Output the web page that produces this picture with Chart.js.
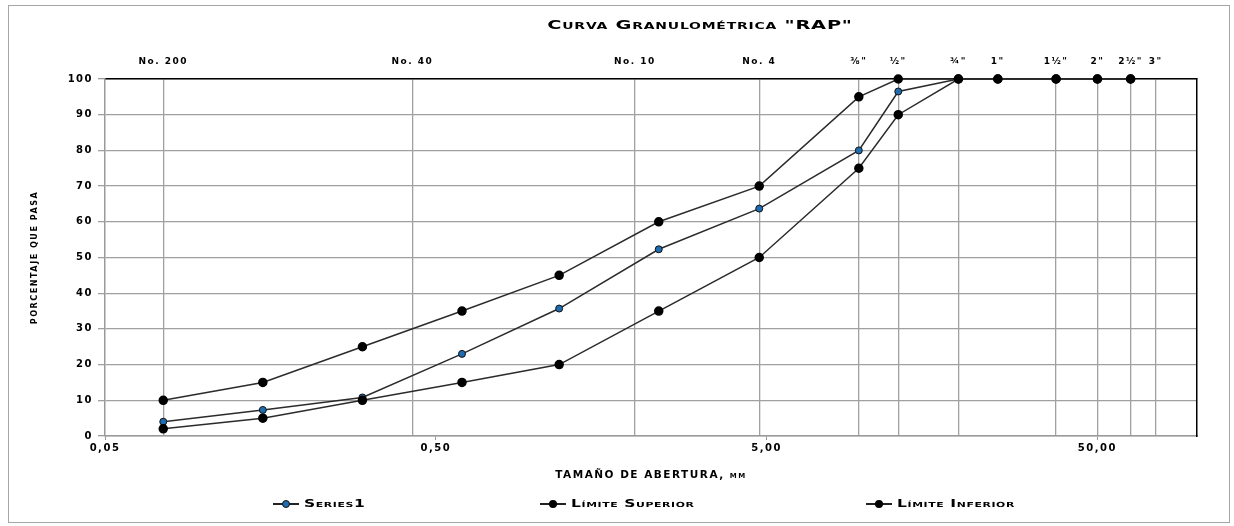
<!DOCTYPE html>
<html>
<head>
<meta charset="utf-8">
<script src="https://cdn.jsdelivr.net/npm/chart.js@4.4.1/dist/chart.umd.min.js"></script>
<style>
  html, body { margin: 0; padding: 0; background: #fff; }
  #wrap { position: relative; width: 1234px; height: 526px; }
  #frame { position: absolute; left: 8px; top: 5px; width: 1222px; height: 518px; border: 1px solid #a6a6a6; box-sizing: border-box; pointer-events: none; }
  .caps { position: absolute; font-family: "DejaVu Sans"; font-weight: bold; font-variant: small-caps; white-space: nowrap; color: #000; }
  #title { top: 17px; left: 700px; font-size: 12.5px; letter-spacing: 0.5px; transform: translateX(-50%) scaleX(1.55); }
  .leg { top: 498px; font-size: 10px; letter-spacing: 0.4px; display: flex; align-items: center; }
  .leg .txt { display: inline-block; transform: scaleX(1.55); transform-origin: left center; }
  .icon { position: relative; display: inline-block; width: 26px; height: 2px; background: #222; margin-right: 5px; }
  .icon i { position: absolute; left: 9px; top: -3px; width: 8px; height: 8px; border-radius: 50%; background: #000; }
  .icon i.blue { background: #1f6cb0; border: 1px solid #111; box-sizing: border-box; }
</style>
</head>
<body>
<div id="wrap">
  <canvas id="curva" width="1234" height="526"></canvas>
  <div id="frame"></div>
  <div id="title" class="caps">Curva Granulométrica "RAP"</div>
  <div class="caps leg" style="left:273px"><span class="icon"><i class="blue"></i></span><span class="txt">Series1</span></div>
  <div class="caps leg" style="left:540px"><span class="icon"><i></i></span><span class="txt">Límite Superior</span></div>
  <div class="caps leg" style="left:866px"><span class="icon"><i></i></span><span class="txt">Límite Inferior</span></div>
</div>
<script>
// abertura de tamices (mm) donde se midió cada punto
const sieveMm = [0.075, 0.15, 0.3, 0.6, 1.18, 2.36, 4.75, 9.5, 12.5, 19, 25, 37.5, 50, 63];
const series1 = [4.0, 7.3, 10.8, 23.0, 35.7, 52.3, 63.7, 80.0, 96.5, 100];
const limiteSuperior = [10, 15, 25, 35, 45, 60, 70, 95, 100, 100, 100, 100, 100, 100];
const limiteInferior = [2, 5, 10, 15, 20, 35, 50, 75, 90, 100, 100, 100, 100, 100];

// tamices marcados arriba (lineas verticales)
const gridSieves = [0.075, 0.425, 2.0, 4.75, 9.5, 12.5, 19, 25, 37.5, 50, 63, 75];
const gridLabels = ['No. 200', 'No. 40', 'No. 10', 'No. 4', '⅜"', '½"', '¾"', '1"', '1½"', '2"', '2½"', '3"'];
const bottomTicks = [0.05, 0.5, 5, 50];

const toPoints = ys => ys.map((y, i) => ({ x: sieveMm[i], y: y }));

const GRID = '#a0a0a0';
const AXIS = '#9a9a9a';
const tickFont = { family: 'DejaVu Sans', weight: 'bold', size: 10 };

// Excel draws this chart's text very wide; canvas letterSpacing gets close
const wideText = {
    id: 'wideText',
    beforeDraw(chart) { chart.ctx.letterSpacing = '1.5px'; },
    afterDraw(chart) { chart.ctx.letterSpacing = '0px'; }
};

new Chart(document.getElementById('curva').getContext('2d'), {
    type: 'scatter',
    data: {
        datasets: [
            {
                label: 'Series1', data: toPoints(series1), showLine: true, order: 2,
                borderColor: '#2b2b2b', borderWidth: 1.5,
                pointRadius: 3.5, pointBackgroundColor: '#1f6cb0', pointBorderColor: '#111', pointBorderWidth: 1,
                clip: false
            },
            {
                label: 'Límite Superior', data: toPoints(limiteSuperior), showLine: true, order: 1,
                borderColor: '#2b2b2b', borderWidth: 1.5,
                pointRadius: 4, pointBackgroundColor: '#000', pointBorderColor: '#000',
                clip: false
            },
            {
                label: 'Límite Inferior', data: toPoints(limiteInferior), showLine: true, order: 0,
                borderColor: '#2b2b2b', borderWidth: 1.5,
                pointRadius: 4, pointBackgroundColor: '#000', pointBorderColor: '#000',
                clip: false
            }
        ]
    },
    options: {
        responsive: false,
        animation: false,
        layout: { padding: { left: 0, right: 37, top: 0, bottom: 0 } },
        plugins: { legend: { display: false }, tooltip: { enabled: false } },
        scales: {
            x: {
                type: 'logarithmic', position: 'bottom', min: 0.05, max: 100,
                afterBuildTicks: s => { s.ticks = bottomTicks.map(v => ({ value: v })); },
                afterFit: s => { s.height = 90; },
                ticks: {
                    autoSkip: false, maxRotation: 0, padding: 2, color: '#000', font: tickFont,
                    callback: v => Number(v).toFixed(2).replace('.', ',')
                },
                grid: { drawOnChartArea: false, drawTicks: true, tickLength: 4, color: AXIS },
                border: { color: AXIS, width: 1.5 },
                title: {
                    display: true, text: 'TAMAÑO DE ABERTURA, mm', color: '#000',
                    font: { family: 'DejaVu Sans', weight: 'small-caps bold', size: 10.5 },
                    padding: { top: 0, bottom: 44 }
                }
            },
            x2: {
                type: 'logarithmic', position: 'top', min: 0.05, max: 100,
                afterBuildTicks: s => { s.ticks = gridSieves.map(v => ({ value: v })); },
                afterFit: s => { s.height = 79; },
                ticks: {
                    autoSkip: false, maxRotation: 0, padding: 12, color: '#000',
                    font: { family: 'DejaVu Sans', weight: 'bold', size: 9 },
                    callback: (v, i) => gridLabels[i]
                },
                grid: {
                    drawTicks: false, lineWidth: 1.3,
                    color: c => (c.tick && c.tick.value === 25) ? 'rgba(0,0,0,0)' : GRID
                },
                border: { color: '#000', width: 1.5 }
            },
            y: {
                min: 0, max: 100,
                afterFit: s => { s.width = 105; },
                ticks: { stepSize: 10, padding: 5, color: '#000', font: tickFont },
                grid: {
                    tickLength: 7, lineWidth: 1.3,
                    color: c => (c.tick && (c.tick.value === 100 || c.tick.value === 0)) ? AXIS : GRID
                },
                border: { color: AXIS, width: 1.5 },
                title: {
                    display: true, text: 'PORCENTAJE QUE PASA', color: '#000',
                    font: { family: 'DejaVu Sans Condensed', weight: 'bold', size: 9 },
                    padding: { top: 29, bottom: 0 }
                }
            },
            y2: {
                position: 'right', min: 0, max: 100,
                afterFit: s => { s.width = 0; },
                ticks: { display: false },
                grid: { display: false },
                border: { display: true, color: '#000', width: 1.5 }
            }
        }
    },
    plugins: [wideText]
});
</script>
</body>
</html>
